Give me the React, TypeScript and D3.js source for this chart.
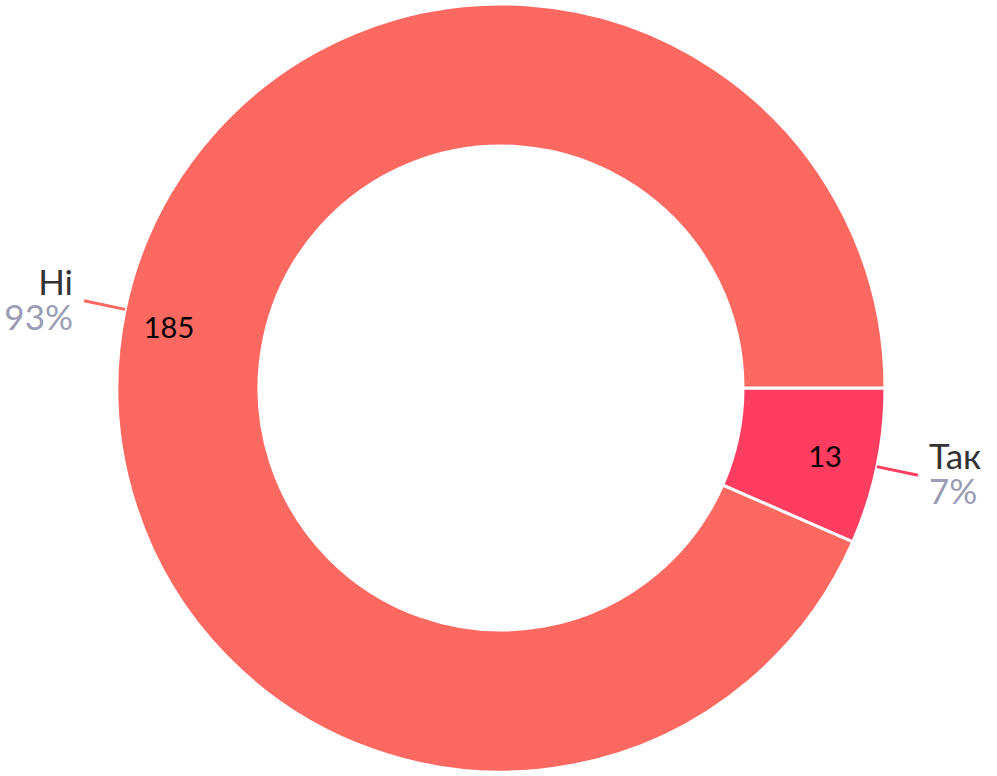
import React from "react";
import * as d3 from "d3";

const categories = ["Так", "Ні"];
const values = [13, 185];
const colors = ["#FF3D60", "#FD6860"];

const W = 997;
const H = 776;
const cx = 501;
const cy = 388;
const outerR = 384;
const innerR = 242;

export default function App() {
  const total = d3.sum(values);
  const pie = d3
    .pie<number>()
    .sort(null)
    .value((d) => d)
    .startAngle(Math.PI / 2)
    .endAngle(Math.PI / 2 + 2 * Math.PI);
  const arcs = pie(values);
  const arc = d3.arc<d3.PieArcDatum<number>>().innerRadius(innerR).outerRadius(outerR);

  return (
    <svg
      width={W}
      height={H}
      style={{ position: "absolute", left: 0, top: 0 }}
      fontFamily="Lato, 'Noto Sans', sans-serif"
    >
      <g transform={`translate(${cx},${cy})`}>
        {arcs.map((a, i) => (
          <path key={i} d={arc(a) || ""} fill={colors[i]} stroke="#fff" strokeWidth={3} />
        ))}
        {arcs.map((a, i) => {
          const mid = (a.startAngle + a.endAngle) / 2;
          const sx = Math.sin(mid);
          const sy = -Math.cos(mid);
          const lr = 331;
          const x1 = sx * outerR;
          const y1 = sy * outerR;
          const x2 = sx * 426;
          const y2 = sy * 426;
          const right = sx > 0;
          const tx = x2 + (right ? 11 : -11);
          const pct = Math.round((values[i] / total) * 100);
          return (
            <g key={"l" + i}>
              <text
                x={sx * lr + (right ? 0 : -8)}
                y={sy * lr + (right ? 0 : 6)}
                textAnchor="middle"
                dominantBaseline="central"
                fontSize={29}
                fill="#000"
              >
                {values[i]}
              </text>
              <line x1={x1} y1={y1} x2={x2} y2={y2} stroke={colors[i]} strokeWidth={3} />
              <text
                x={tx}
                y={y2 - 6}
                textAnchor={right ? "start" : "end"}
                fontSize={35}
                fill="#333333"
              >
                {categories[i]}
              </text>
              <text
                x={tx}
                y={y2 + 29}
                textAnchor={right ? "start" : "end"}
                fontSize={35}
                fill="#9A9CB4"
              >
                {pct}%
              </text>
            </g>
          );
        })}
      </g>
    </svg>
  );
}
